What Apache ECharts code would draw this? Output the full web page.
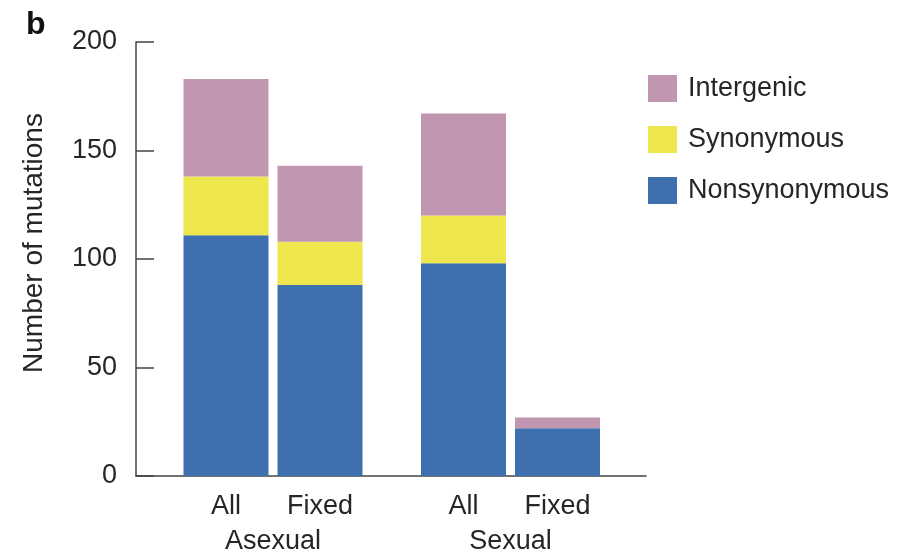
<!DOCTYPE html>
<html>
<head>
<meta charset="utf-8">
<script src="https://cdn.jsdelivr.net/npm/echarts@6/dist/echarts.min.js"></script>
<style>
  html, body { margin: 0; padding: 0; background: #fff; }
  #main { width: 900px; height: 552px; }
</style>
</head>
<body>
<div id="main"></div>
<script>
// groups on the x axis
const groups = ['Asexual', 'Sexual'];
// y axis ticks
const yTicks = [0, 50, 100, 150, 200];

// "All" mutations per group
const allNonsyn = [111, 98];
const allSyn = [27, 22];
const allInter = [45, 47];

// "Fixed" mutations per group
const fixedNonsyn = [88, 22];
const fixedSyn = [20, 0];
const fixedInter = [35, 5];

const colors = {
  Intergenic: '#c196b1',
  Synonymous: '#ede64d',
  Nonsynonymous: '#3e70b0'
};
const font = 'Liberation Sans, Arial, sans-serif';
const txt = '#262626';

function seg(name, stack, data, bottomLabel) {
  let s = {
    name: name,
    type: 'bar',
    stack: stack,
    data: data,
    xAxisIndex: 1,
    yAxisIndex: 1,
    barWidth: 85,
    barGap: '10.6%',
    itemStyle: { color: colors[name] },
    emphasis: { disabled: true }
  };
  if (bottomLabel) {
    s.label = {
      show: true,
      position: 'bottom',
      distance: 17,
      formatter: bottomLabel,
      color: txt,
      fontSize: 27,
      fontFamily: font
    };
  }
  return s;
}

let myChart = echarts.init(document.getElementById('main'));
let option = {
  animation: false,
  title: {
    text: 'b',
    left: 21,
    top: 4,
    textStyle: { fontSize: 32, fontWeight: 'bold', color: '#111', fontFamily: font }
  },
  legend: {
    data: ['Intergenic', 'Synonymous', 'Nonsynonymous'],
    orient: 'vertical',
    left: 643,
    top: 70,
    itemWidth: 29,
    itemHeight: 27,
    itemGap: 24,
    icon: 'rect',
    selectedMode: false,
    textStyle: { fontSize: 27, color: txt, fontFamily: font, padding: [0, 0, 0, 6] }
  },
  grid: [
    // frame with the axis lines
    { left: 136, width: 510, top: 42, bottom: 76, outerBoundsMode: 'none' },
    // bars
    { left: 154.25, width: 475, top: 42, bottom: 76, outerBoundsMode: 'none' }
  ],
  xAxis: [
    {
      type: 'category',
      gridIndex: 0,
      data: [''],
      axisLine: { lineStyle: { color: '#444', width: 1.5 } },
      axisTick: { show: false },
      axisLabel: { show: false }
    },
    {
      type: 'category',
      gridIndex: 1,
      data: groups,
      axisLine: { show: false },
      axisTick: { show: false },
      axisLabel: { margin: 52, fontSize: 27, color: txt, fontFamily: font }
    }
  ],
  yAxis: [
    {
      type: 'value',
      gridIndex: 0,
      min: yTicks[0],
      max: yTicks[yTicks.length - 1],
      interval: 50,
      name: 'Number of mutations',
      nameLocation: 'middle',
      nameGap: 88,
      nameTextStyle: { fontSize: 28, color: txt, fontFamily: font, padding: [0, 0, 0, 32] },
      axisLine: { show: true, lineStyle: { color: '#444', width: 1.5 } },
      axisTick: { show: true, inside: true, length: 18, lineStyle: { color: '#444', width: 1.5 } },
      axisLabel: { margin: 19, fontSize: 27, color: txt, fontFamily: font },
      splitLine: { show: false }
    },
    {
      type: 'value',
      gridIndex: 1,
      min: yTicks[0],
      max: yTicks[yTicks.length - 1],
      show: false,
      splitLine: { show: false }
    }
  ],
  series: [
    seg('Nonsynonymous', 'all', allNonsyn, 'All'),
    seg('Synonymous', 'all', allSyn),
    seg('Intergenic', 'all', allInter),
    seg('Nonsynonymous', 'fixed', fixedNonsyn, 'Fixed'),
    seg('Synonymous', 'fixed', fixedSyn),
    seg('Intergenic', 'fixed', fixedInter)
  ]
};
myChart.setOption(option);
</script>
</body>
</html>
